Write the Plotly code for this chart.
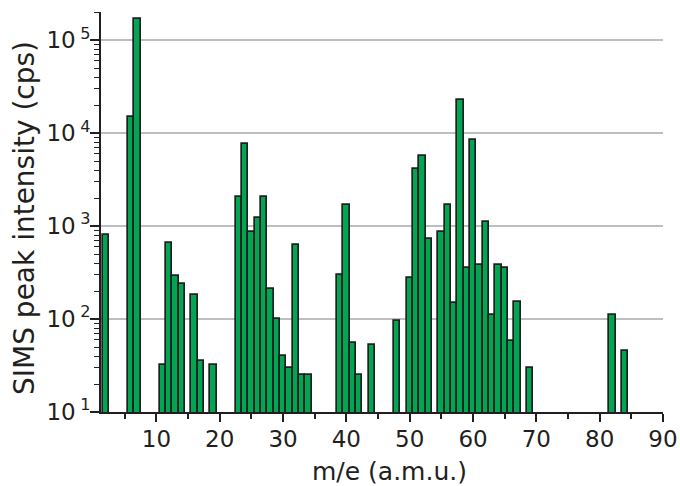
import plotly.graph_objects as go

mass = [2, 6, 7, 11, 12, 13, 14, 16, 17, 19, 23, 24, 25, 26, 27, 28, 29, 30, 31, 32, 33, 34,
        39, 40, 41, 42, 44, 48, 50, 51, 52, 53, 55, 56, 57, 58, 59, 60, 61, 62, 63, 64, 65,
        66, 67, 69, 82, 84]
intensity = [800, 15000, 168000, 32, 650, 290, 236, 181, 35, 32, 2070, 7600, 870, 1230, 2070,
             210, 100, 40, 30, 625, 25, 25, 300, 1680, 55, 25, 53, 96, 278, 4070, 5650, 730,
             870, 1670, 150, 23000, 350, 8400, 380, 1110, 110, 380, 350, 58, 153, 30, 110, 45]

x_ticks = [10, 20, 30, 40, 50, 60, 70, 80, 90]
x_minor = [5, 15, 25, 35, 45, 55, 65, 75, 85]
y_ticks = [10, 100, 1000, 10000, 100000]
y_ticktext = ["10&#8201;<sup>1</sup>", "10&#8201;<sup>2</sup>", "10&#8201;<sup>3</sup>",
              "10&#8201;<sup>4</sup>", "10&#8201;<sup>5</sup>"]
y_minor = [m * d for d in [10, 100, 1000, 10000, 100000] for m in range(2, 10) if m * d <= 200000]
x_title = "m/e (a.m.u.)"
y_title = "SIMS peak intensity (cps)"

ink = "#231F20"
font = "DejaVu Sans, Verdana, sans-serif"

fig = go.Figure(go.Bar(
    x=mass, y=intensity, width=[1] * len(mass),
    marker=dict(color="#00A651", line=dict(color=ink, width=1.7)),
))

fig.update_layout(
    width=680, height=486,
    margin=dict(l=101, r=17, t=12, b=74),
    paper_bgcolor="white", plot_bgcolor="white",
    showlegend=False, bargap=0,
    font=dict(family=font, size=23, color=ink),
    annotations=[
        dict(text=x_title, xref="paper", yref="paper", x=0.5, y=-0.15, xshift=7,
             xanchor="center", yanchor="middle", showarrow=False, font=dict(size=25)),
        dict(text=y_title, xref="paper", yref="paper", x=0, y=0.5, xshift=-77, yshift=-6,
             xanchor="center", yanchor="middle", textangle=-90, showarrow=False,
             font=dict(size=28)),
    ],
)
fig.update_xaxes(
    range=[1.25, 90], tickvals=x_ticks, ticks="outside", ticklen=8, tickwidth=1.6,
    tickcolor=ink, showline=True, linecolor=ink, linewidth=1.8, showgrid=False,
    zeroline=False, tickfont=dict(size=23), automargin=False, ticklabelstandoff=-3,
    minor=dict(tickvals=x_minor, ticks="outside", ticklen=5, tickwidth=1.6, tickcolor=ink),
)
fig.update_yaxes(
    type="log", range=[1, 5.303], tickvals=y_ticks, ticktext=y_ticktext,
    ticks="outside", ticklen=9, tickwidth=1.6, tickcolor=ink,
    showline=True, linecolor=ink, linewidth=1.8,
    showgrid=True, gridcolor="#BCBEC0", gridwidth=1.6, zeroline=False,
    tickfont=dict(size=23), automargin=False, ticklabelstandoff=-5,
    minor=dict(tickvals=y_minor, ticks="outside", ticklen=5, tickwidth=1.3,
               tickcolor=ink, showgrid=False),
)

fig.write_html(
    "out.html",
    config={"displayModeBar": False},
    post_script="document.body.style.margin='0';document.body.style.overflow='hidden';",
)
